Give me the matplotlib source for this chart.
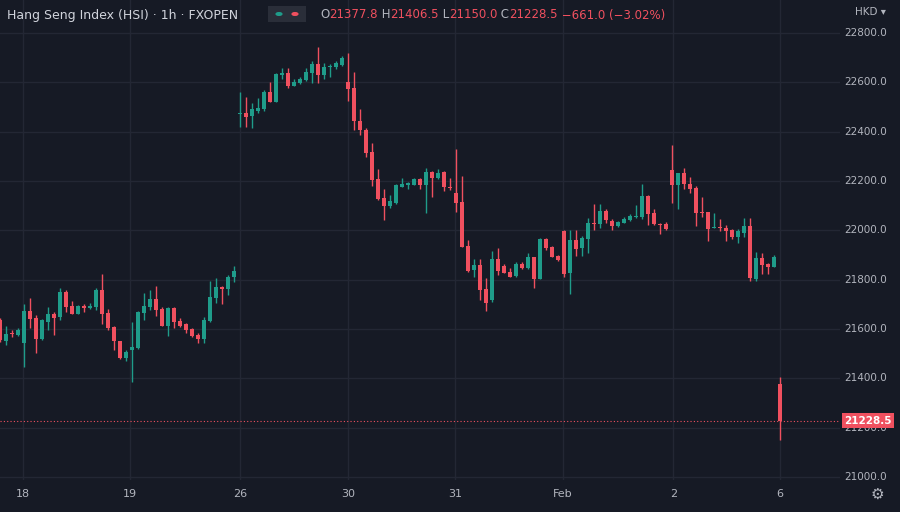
import matplotlib.pyplot as plt

# hourly OHLC
opens = [21636, 21553, 21582, 21576, 21542, 21673, 21643, 21558, 21630, 21663,
         21650, 21751, 21694, 21663, 21694, 21684, 21690, 21758, 21667, 21609,
         21551, 21481, 21515, 21524, 21667, 21690, 21720, 21681, 21613, 21686,
         21634, 21620, 21600, 21576, 21558, 21632, 21727, 21771, 21761, 21812,
         22472, 22477, 22464, 22482, 22492, 22560, 22522, 22631, 22640, 22587,
         22596, 22610, 22637, 22673, 22630, 22661, 22661, 22671, 22603, 22579,
         22445, 22407, 22319, 22207, 22133, 22097, 22110, 22175, 22184, 22184,
         22207, 22184, 22238, 22211, 22238, 22177, 22150, 22116, 21936, 21839,
         21859, 21762, 21718, 21884, 21857, 21832, 21815, 21863, 21846, 21893,
         21803, 21965, 21934, 21897, 21999, 21828, 21961, 21927, 21965, 22031,
         22024, 22080, 22039, 22017, 22031, 22042, 22053, 22053, 22141, 22072,
         22026, 22026, 22245, 22186, 22234, 22188, 22170, 22076, 22073, 22008,
         22012, 22011, 22001, 21974, 21990, 22017, 21803, 21890, 21863, 21853,
         21377.8]
closes = [21555, 21580, 21580, 21598, 21673, 21640, 21558, 21636, 21663, 21646,
          21751, 21690, 21663, 21694, 21684, 21694, 21758, 21663, 21603, 21551,
          21481, 21505, 21526, 21670, 21694, 21720, 21677, 21613, 21686, 21630,
          21612, 21596, 21573, 21558, 21636, 21731, 21771, 21761, 21812, 21836,
          22475, 22461, 22491, 22495, 22563, 22522, 22634, 22640, 22586, 22603,
          22614, 22641, 22673, 22630, 22661, 22668, 22677, 22698, 22573, 22445,
          22407, 22315, 22205, 22128, 22097, 22121, 22184, 22187, 22191, 22207,
          22184, 22238, 22214, 22234, 22175, 22170, 22112, 21931, 21835, 21859,
          21758, 21704, 21884, 21835, 21828, 21812, 21862, 21846, 21893, 21803,
          21965, 21927, 21891, 21880, 21823, 21961, 21923, 21970, 22031, 22024,
          22080, 22042, 22017, 22035, 22046, 22059, 22055, 22141, 22066, 22024,
          22022, 22004, 22186, 22234, 22190, 22167, 22072, 22072, 22005, 22012,
          22008, 21997, 21974, 21999, 22017, 21808, 21890, 21859, 21853, 21893,
          21228.5]
highs = [21643, 21612, 21598, 21603, 21701, 21727, 21657, 21639, 21688, 21670,
         21765, 21758, 21713, 21697, 21701, 21707, 21765, 21823, 21680, 21612,
         21551, 21515, 21630, 21673, 21747, 21758, 21775, 21688, 21690, 21690,
         21643, 21623, 21603, 21582, 21650, 21796, 21805, 21775, 21819, 21855,
         22559, 22540, 22518, 22535, 22569, 22603, 22637, 22657, 22657, 22613,
         22621, 22657, 22688, 22742, 22680, 22675, 22688, 22707, 22718, 22641,
         22492, 22414, 22356, 22248, 22167, 22144, 22188, 22214, 22198, 22211,
         22211, 22252, 22242, 22248, 22241, 22211, 22328, 22220, 21961, 21884,
         21884, 21805, 21916, 21927, 21863, 21846, 21873, 21873, 21907, 21893,
         21970, 21970, 21936, 21900, 22001, 22001, 22001, 21977, 22051, 22107,
         22107, 22085, 22046, 22038, 22053, 22066, 22103, 22188, 22143, 22085,
         22031, 22035, 22346, 22234, 22251, 22215, 22180, 22134, 22073, 22072,
         22046, 22022, 22005, 22004, 22051, 22051, 21913, 21907, 21869, 21900,
         21406.5]
lows = [21548, 21535, 21566, 21571, 21447, 21603, 21504, 21555, 21596, 21576,
        21636, 21670, 21661, 21661, 21670, 21682, 21677, 21620, 21596, 21517,
        21477, 21471, 21386, 21521, 21636, 21677, 21652, 21613, 21571, 21603,
        21607, 21585, 21569, 21544, 21544, 21630, 21707, 21701, 21738, 21789,
        22418, 22418, 22414, 22477, 22486, 22519, 22519, 22613, 22576, 22586,
        22594, 22607, 22599, 22599, 22613, 22623, 22653, 22667, 22526, 22405,
        22387, 22296, 22180, 22124, 22042, 22090, 22107, 22175, 22167, 22184,
        22167, 22069, 22137, 22207, 22161, 22163, 22076, 21931, 21832, 21812,
        21718, 21674, 21711, 21819, 21826, 21812, 21812, 21842, 21842, 21765,
        21801, 21920, 21891, 21877, 21812, 21741, 21896, 21896, 21909, 22001,
        22008, 22031, 22001, 22015, 22028, 22039, 22049, 22045, 22022, 22022,
        21984, 22001, 22112, 22085, 22166, 22150, 22017, 22053, 21958, 22008,
        21999, 21958, 21965, 21950, 21972, 21795, 21796, 21823, 21823, 21850,
        21150.0]
day_labels = ["18", "19", "26", "30", "31", "Feb", "2", "6"]
day_pos = [3.8, 21.7, 40, 58, 75.8, 93.8, 112.2, 130]
price_ticks = [21000, 21200, 21400, 21600, 21800, 22000, 22200, 22400, 22600, 22800]

BG = "#161a25"
GRID = "#232734"
UP = "#1f9c8a"
DOWN = "#f0505f"
TXT = "#b2b5be"

fig = plt.figure(figsize=(9, 5.12), dpi=100, facecolor=BG)
ax = fig.add_axes([0, 32 / 512, 840 / 900, 480 / 512], facecolor=BG)

for i in range(len(opens)):
    col = UP if closes[i] >= opens[i] else DOWN
    ax.vlines(i, lows[i], highs[i], color=col, lw=1, zorder=3)
    lo, hi = min(opens[i], closes[i]), max(opens[i], closes[i])
    ax.bar(i, max(hi - lo, 4), bottom=lo, width=0.68, color=col, zorder=4)

ax.set_xlim(0, 140)
ax.set_ylim(20988, 22934)
for p in price_ticks:
    ax.axhline(p, color=GRID, lw=1, zorder=1)
for x in day_pos:
    ax.axvline(x, color=GRID, lw=1, zorder=1)
for s in ax.spines.values():
    s.set_visible(False)
ax.set_xticks([])
ax.set_yticks([])

last = closes[-1]
ax.axhline(last, color=DOWN, lw=0.8, ls=(0, (1, 2)), zorder=2)

# price axis labels
for p in price_ticks:
    ax.text(1.005, (p - 20988) / (22934 - 20988), f"{p:.1f}", transform=ax.transAxes,
            color=TXT, fontsize=7.5, va="center", ha="left", clip_on=False)
ax.text(1.005, (last - 20988) / (22934 - 20988), f"{last:.1f}", transform=ax.transAxes,
        color="white", fontsize=7.5, fontweight="bold", va="center", ha="left",
        bbox=dict(boxstyle="square,pad=0.25", fc=DOWN, ec="none"), clip_on=False)

for lab, x in zip(day_labels, day_pos):
    fig.text(x * 6 / 900, 18 / 512, lab, color=TXT, fontsize=8, ha="center", va="center")

fig.text(855 / 900, 500 / 512, "HKD \u25be", color=TXT, fontsize=7.5, va="center")
fig.text(877 / 900, 18 / 512, "\u2699", color=TXT, fontsize=11, ha="center", va="center")

fig.text(7 / 900, 497 / 512, "Hang Seng Index (HSI) \u00b7 1h \u00b7 FXOPEN", color="#d1d4dc",
         fontsize=9, va="center")
fig.patches.append(plt.Rectangle((268 / 900, 490 / 512), 38 / 900, 16 / 512, transform=fig.transFigure,
                                 fc="#2a2e39", ec="none"))
fig.patches.append(plt.Circle((279 / 900, 498 / 512), 0.004, transform=fig.transFigure, fc=UP, ec="none"))
fig.patches.append(plt.Circle((295 / 900, 498 / 512), 0.004, transform=fig.transFigure, fc=DOWN, ec="none"))

x0 = 320
parts = [("O", TXT), ("21377.8", DOWN), (" H", TXT), ("21406.5", DOWN), (" L", TXT),
         ("21150.0", DOWN), (" C", TXT), ("21228.5", DOWN), (" \u2212661.0 (\u22123.02%)", DOWN)]
t = None
for s, c in parts:
    if t is None:
        t = fig.text(x0 / 900, 497 / 512, s, color=c, fontsize=8.5, va="center")
    else:
        t = ax.annotate(s, xycoords=t, xy=(1, 0), va="bottom", color=c, fontsize=8.5,
                        annotation_clip=False)

fig.savefig("out.png", dpi=100, facecolor=BG)
